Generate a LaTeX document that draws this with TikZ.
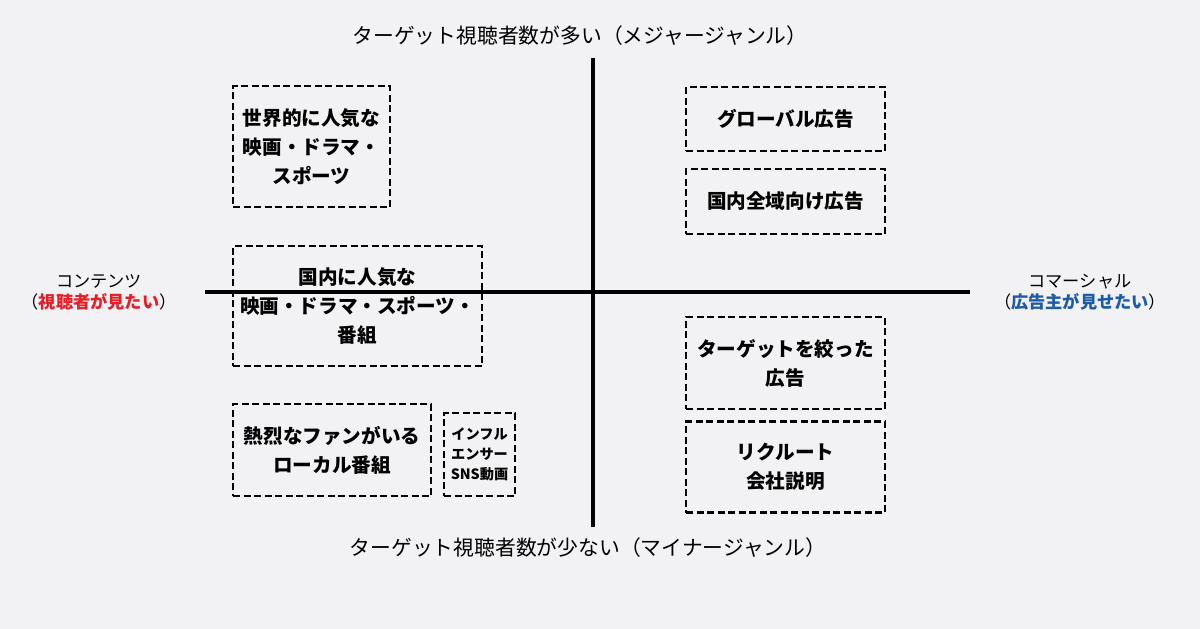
\documentclass[tikz,border=0pt]{standalone}
\usepackage{fontspec}
\setmainfont{Noto Sans CJK JP}
\usetikzlibrary{positioning}
\definecolor{fondo}{RGB}{242,242,244}
\definecolor{rojo}{RGB}{230,30,40}
\definecolor{azul}{RGB}{30,90,170}
\tikzset{
  caja/.style={draw, dashed, dash pattern=on 7pt off 3.5pt, line width=2.4pt,
    inner sep=0pt, align=center, font=\bfseries\fontsize{19.6}{29}\selectfont},
  eje/.style={draw=black, line width=4.5pt},
  rotulo/.style={align=center, font=\fontsize{19}{24}\selectfont}
}

\begin{document}
\begin{tikzpicture}[x=1pt, y=-1pt]
% Fondo
\fill[fondo] (0,0) rectangle (1200,629);
\useasboundingbox (0,0) rectangle (1200,629);
% Ejes
\coordinate (arriba) at (593,58);
\coordinate (abajo) at (593,527);
\coordinate (izq) at (205,292);
\coordinate (der) at (970,292);
\draw[eje] (arriba) -- (abajo);
\draw[eje, line width=4pt] (izq) -- (der);
% Textos de los ejes
\node[rotulo, font=\fontsize{20.8}{24}\selectfont] (mayor) at (580,36) {ターゲット視聴者数が多い（メジャージャンル）};
\node[rotulo, font=\fontsize{20.8}{24}\selectfont] (menor) at (588,548) {ターゲット視聴者数が少ない（マイナージャンル）};
\node[rotulo, font=\fontsize{17.2}{21}\selectfont] (contenido) at (99,292)
  {コンテンツ\\（{\bfseries\color{rojo}視聴者が見たい}）};
\node[rotulo, font=\fontsize{17.2}{21}\selectfont] (comercial) at (1080,292)
  {コマーシャル\\（{\bfseries\color{azul}広告主が見せたい}）};
% Cajas de contenido
\node[caja, minimum width=157pt, minimum height=121pt] (mundial) at (311.5,146.5) {世界的に人気な\\映画・ドラマ・\\スポーツ};
\node[caja, minimum width=249pt, minimum height=120pt] (nacional) at (357.5,306) {国内に人気な\\映画・ドラマ・スポーツ・\\番組};
\node[caja, minimum width=198pt, minimum height=92pt] (local) at (332,450) {熱烈なファンがいる\\ローカル番組};
\node[caja, minimum width=71pt, minimum height=83pt, font=\bfseries\fontsize{14.2}{20}\selectfont] (sns) at (479.5,454.5) {インフル\\エンサー\\SNS動画};
% Cajas de anuncios
\node[caja, minimum width=199pt, minimum height=64pt] (global) at (785.5,119) {グローバル広告};
\node[caja, minimum width=199pt, minimum height=65pt] (pais) at (785.5,201.5) {国内全域向け広告};
\node[caja, minimum width=199pt, minimum height=92pt] (objetivo) at (785.5,363) {ターゲットを絞った\\広告};
\node[caja, minimum width=199pt, minimum height=91pt] (empleo) at (785.5,467) {リクルート\\会社説明};
\end{tikzpicture}
\end{document}
